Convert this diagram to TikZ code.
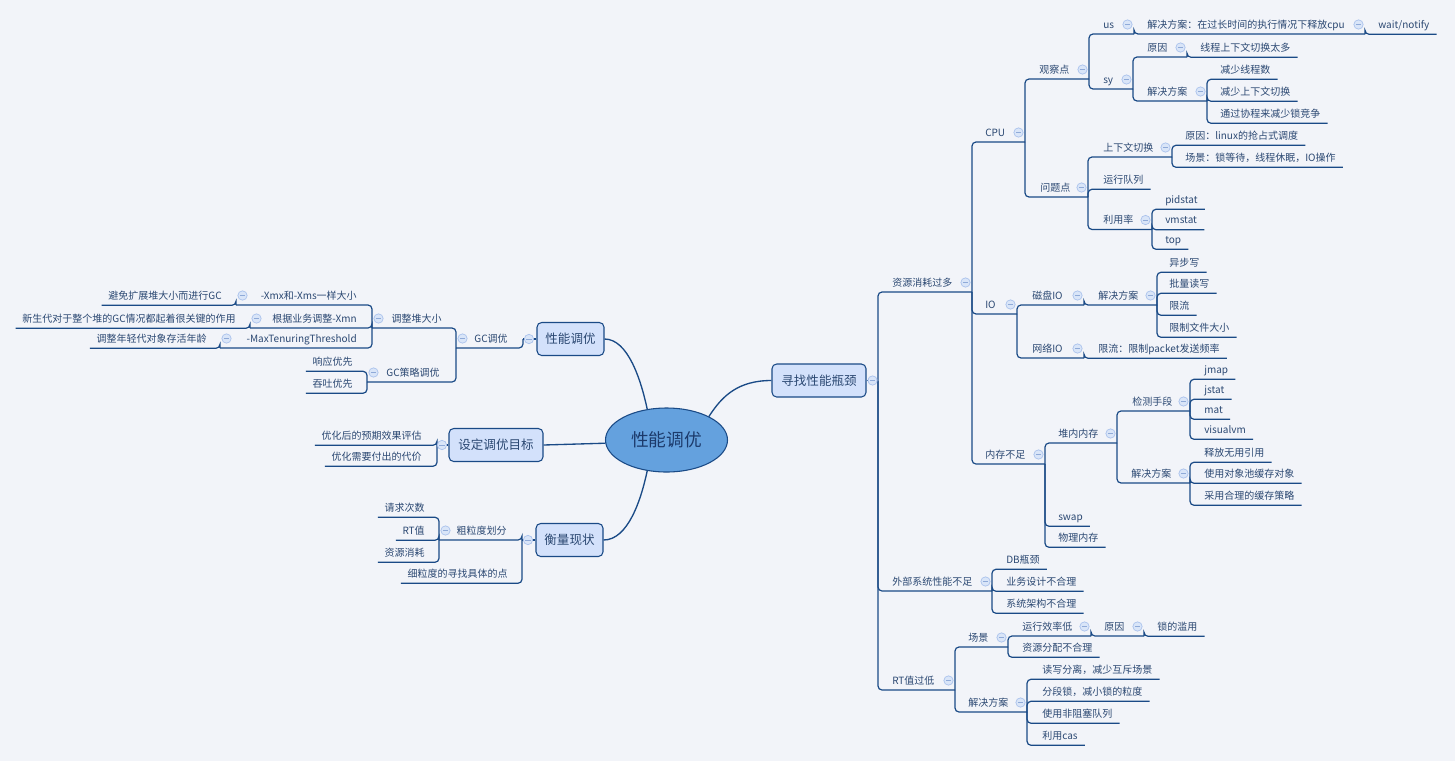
\documentclass[tikz,border=0pt]{standalone}
\usepackage{fontspec}
\setmainfont{Noto Sans CJK SC}
\usetikzlibrary{calc,shapes.geometric}
\definecolor{bgc}{HTML}{F2F4F9}
\definecolor{lnc}{HTML}{1A4A86}
\definecolor{txtc}{HTML}{2B4872}
\definecolor{boxfill}{HTML}{D3E1FB}
\definecolor{ellfill}{HTML}{64A1DE}
\definecolor{ctrtxt}{HTML}{1C3A6B}
\definecolor{colfill}{HTML}{D9E5F8}
\definecolor{coldraw}{HTML}{A9C1EC}
\definecolor{colminus}{HTML}{8FAAD8}
\tikzset{
 lbl/.style={inner sep=0pt, text height=6.6pt, text depth=0.9pt, text=txtc, font=\fontsize{7.5pt}{9pt}\selectfont},
 conn/.style={draw=lnc, line width=0.9pt, rounded corners=3pt},
 topic/.style={draw=lnc, fill=boxfill, rounded corners=3.5pt, line width=0.8pt, text=txtc, font=\fontsize{9.4pt}{11pt}\selectfont, minimum height=24.75pt, inner xsep=0pt},
 col/.style={circle, draw=coldraw, fill=colfill, line width=0.5pt, minimum size=7pt, inner sep=0pt,
   path picture={\draw[colminus, line width=0.6pt] ([xshift=-2pt]path picture bounding box.center) -- ([xshift=2pt]path picture bounding box.center);}},
 curve/.style={draw=lnc, line width=1pt},
}
\newcommand\rtxt[4]{\node[lbl,anchor=west] (#1) at (#2,#3-9.5) {#4};}
\newcommand\ltxt[4]{\node[lbl,anchor=east] (#1) at (#2,#3-9.5) {#4};}
\newcommand\rmid[2]{\draw[conn] (#1) |- (#2);}
\newcommand\rleaf[2]{\draw[conn] (#1) |- ($(#2.south east)+(7,4.5)$);}
\newcommand\lleaf[2]{\draw[conn] (#1) |- ($(#2.south west)+(-6.5,4.5)$);}
\newcommand\rcol[1]{\node[col] (#1c) at ($(#1s)+(-6.5,-9.5)$) {};}
\newcommand\lcol[1]{\node[col] (#1c) at ($(#1s)+(6.5,-9.5)$) {};}
\begin{document}
\begin{tikzpicture}[x=0.75pt,y=-0.75pt]
\fill[bgc] (0,0) rectangle (1455,761);
\useasboundingbox (0,0) rectangle (1455,761);

% central and main topics
\node[ellipse, draw=lnc, line width=0.8pt, fill=ellfill, minimum width=91.5pt, minimum height=48pt, inner sep=0pt, text=ctrtxt, font=\fontsize{13.3pt}{16pt}\selectfont] (ctr) at (666.5,440) {性能调优};
\node[topic, minimum width=70.5pt] (r) at (819,380.5) {寻找性能瓶颈};
\node[topic, minimum width=50.25pt] (l1) at (570.5,339) {性能调优};
\node[topic, minimum width=70.5pt] (s) at (496,445) {设定调优目标};
\node[topic, minimum width=50.25pt] (mm) at (569.5,540) {衡量现状};

\draw[curve] (ctr.29) .. controls (722,396) and (738,380.5) .. (r.west);
\draw[curve] (ctr.122) .. controls (641,380) and (628,339) .. (l1.east);
\draw[curve] (ctr.238) .. controls (641,500) and (628,540) .. (mm.east);
\draw[curve] (ctr.183) -- (s.east);

% ===== right branch =====
\coordinate (rs) at (878,380.5);
\draw[conn] (r.east) -- (rs);
\rtxt{a1}{892}{292}{资源消耗过多} \coordinate (a1s) at (972,292);
\rtxt{a2}{892}{591}{外部系统性能不足} \coordinate (a2s) at (992,591);
\rtxt{a3}{892}{690}{RT值过低} \coordinate (a3s) at (955,690);
\rmid{rs}{a1s} \rmid{rs}{a2s} \rmid{rs}{a3s}

\rtxt{b1}{985}{142}{CPU} \coordinate (b1s) at (1025,142);
\rtxt{b2}{985}{314}{IO} \coordinate (b2s) at (1017,314);
\rtxt{b3}{985}{464}{内存不足} \coordinate (b3s) at (1045,464);
\rmid{a1s}{b1s} \rmid{a1s}{b2s} \rmid{a1s}{b3s}

\rtxt{c1}{1039}{79}{观察点} \coordinate (c1s) at (1089,79);
\rtxt{c2}{1040}{197}{问题点} \coordinate (c2s) at (1088,197);
\rmid{b1s}{c1s} \rmid{b1s}{c2s}

\rtxt{d1}{1103}{34}{us} \coordinate (d1s) at (1134,34);
\rtxt{d2}{1103}{89}{sy} \coordinate (d2s) at (1133,89);
\rmid{c1s}{d1s} \rmid{c1s}{d2s}
\rtxt{e1}{1147}{34}{解决方案：在过长时间的执行情况下释放cpu} \coordinate (e1s) at (1365,34);
\rmid{d1s}{e1s}
\rtxt{f1}{1378}{34}{wait/notify} \rleaf{e1s}{f1}
\rtxt{e2}{1147}{57}{原因} \coordinate (e2s) at (1187,57);
\rtxt{e3}{1147}{101}{解决方案} \coordinate (e3s) at (1207,101);
\rmid{d2s}{e2s} \rmid{d2s}{e3s}
\rtxt{f2}{1200}{57}{线程上下文切换太多} \rleaf{e2s}{f2}
\rtxt{f3}{1220}{79}{减少线程数} \rleaf{e3s}{f3}
\rtxt{f4}{1220}{101}{减少上下文切换} \rleaf{e3s}{f4}
\rtxt{f5}{1220}{123}{通过协程来减少锁竞争} \rleaf{e3s}{f5}

\rtxt{d3}{1103}{157}{上下文切换} \coordinate (d3s) at (1172,157);
\rtxt{d4}{1103}{189}{运行队列}
\rtxt{d5}{1103}{229.5}{利用率} \coordinate (d5s) at (1152,229.5);
\rmid{c2s}{d3s} \rleaf{c2s}{d4} \rmid{c2s}{d5s}
\rtxt{e4}{1185}{145}{原因：linux的抢占式调度} \rleaf{d3s}{e4}
\rtxt{e5}{1185}{167}{场景：锁等待，线程休眠，IO操作} \rleaf{d3s}{e5}
\rtxt{e6}{1165}{209}{pidstat} \rleaf{d5s}{e6}
\rtxt{e7}{1165}{229.5}{vmstat} \rleaf{d5s}{e7}
\rtxt{e8}{1165}{249}{top} \rleaf{d5s}{e8}

\rtxt{c3}{1032}{305}{磁盘IO} \coordinate (c3s) at (1084,305);
\rtxt{c4}{1032}{358}{网络IO} \coordinate (c4s) at (1084,358);
\rmid{b2s}{c3s} \rmid{b2s}{c4s}
\rtxt{d6}{1098}{305}{解决方案} \coordinate (d6s) at (1157,305);
\rmid{c3s}{d6s}
\rtxt{e9}{1169}{272}{异步写} \rleaf{d6s}{e9}
\rtxt{e10}{1169}{293}{批量读写} \rleaf{d6s}{e10}
\rtxt{e11}{1169}{315}{限流} \rleaf{d6s}{e11}
\rtxt{e12}{1169}{337}{限制文件大小} \rleaf{d6s}{e12}
\rtxt{d7}{1098}{358}{限流：限制packet发送频率} \rleaf{c4s}{d7}

\rtxt{c5}{1058}{443}{堆内内存} \coordinate (c5s) at (1117,443);
\rtxt{c6}{1058}{526}{swap}
\rtxt{c7}{1058}{547}{物理内存}
\rmid{b3s}{c5s} \rleaf{b3s}{c6} \rleaf{b3s}{c7}
\rtxt{d8}{1132}{411}{检测手段} \coordinate (d8s) at (1190,411);
\rtxt{d9}{1131}{483}{解决方案} \coordinate (d9s) at (1190,483);
\rmid{c5s}{d8s} \rmid{c5s}{d9s}
\rtxt{g1}{1204}{379}{jmap} \rleaf{d8s}{g1}
\rtxt{g2}{1204}{399}{jstat} \rleaf{d8s}{g2}
\rtxt{g3}{1204}{419}{mat} \rleaf{d8s}{g3}
\rtxt{g4}{1204}{439}{visualvm} \rleaf{d8s}{g4}
\rtxt{g5}{1204}{462}{释放无用引用} \rleaf{d9s}{g5}
\rtxt{g6}{1204}{483}{使用对象池缓存对象} \rleaf{d9s}{g6}
\rtxt{g7}{1204}{505}{采用合理的缓存策略} \rleaf{d9s}{g7}

\rtxt{h1}{1006}{569}{DB瓶颈} \rleaf{a2s}{h1}
\rtxt{h2}{1006}{591}{业务设计不合理} \rleaf{a2s}{h2}
\rtxt{h3}{1006}{613}{系统架构不合理} \rleaf{a2s}{h3}

\rtxt{i1}{968}{647}{场景} \coordinate (i1s) at (1008,647);
\rtxt{i2}{968}{712}{解决方案} \coordinate (i2s) at (1027,712);
\rmid{a3s}{i1s} \rmid{a3s}{i2s}
\rtxt{j1}{1022}{636}{运行效率低} \coordinate (j1s) at (1091,636);
\rtxt{j2}{1022}{657}{资源分配不合理}
\rmid{i1s}{j1s} \rleaf{i1s}{j2}
\rtxt{k1}{1104}{636}{原因} \coordinate (k1s) at (1144,636);
\rmid{j1s}{k1s}
\rtxt{k2}{1157}{636}{锁的滥用} \rleaf{k1s}{k2}
\rtxt{j3}{1042}{679}{读写分离，减少互斥场景} \rleaf{i2s}{j3}
\rtxt{j4}{1042}{701}{分段锁，减小锁的粒度} \rleaf{i2s}{j4}
\rtxt{j5}{1042}{723}{使用非阻塞队列} \rleaf{i2s}{j5}
\rtxt{j6}{1042}{745}{利用cas} \rleaf{i2s}{j6}

% ===== left branches =====
\coordinate (l1s) at (523,339);
\draw[conn] (l1.west) -- (l1s);
\ltxt{m1}{508}{348}{GC调优} \coordinate (m1s) at (456,348);
\rmid{l1s}{m1s}
\ltxt{n1}{442}{328}{调整堆大小} \coordinate (n1s) at (372,328);
\ltxt{n2}{440}{382}{GC策略调优} \coordinate (n2s) at (367,382);
\rmid{m1s}{n1s} \rmid{m1s}{n2s}
\ltxt{o1}{357}{305}{-Xmx和-Xms一样大小} \coordinate (o1s) at (236,305);
\ltxt{o2}{357}{328}{根据业务调整-Xmn} \coordinate (o2s) at (250,328);
\ltxt{o3}{357}{348}{-MaxTenuringThreshold} \coordinate (o3s) at (220,348);
\rmid{n1s}{o1s} \rmid{n1s}{o2s} \rmid{n1s}{o3s}
\ltxt{p1}{222}{305}{避免扩展堆大小而进行GC} \lleaf{o1s}{p1}
\ltxt{p2}{236}{328}{新生代对于整个堆的GC情况都起着很关键的作用} \lleaf{o2s}{p2}
\ltxt{p3}{207}{348}{调整年轻代对象存活年龄} \lleaf{o3s}{p3}
\ltxt{o4}{353}{371}{响应优先} \lleaf{n2s}{o4}
\ltxt{o5}{353}{393}{吞吐优先} \lleaf{n2s}{o5}

\coordinate (ss) at (437,445);
\draw[conn] (s.west) -- (ss);
\ltxt{q1}{422}{445}{优化后的预期效果评估} \lleaf{ss}{q1}
\ltxt{q2}{422}{466}{优化需要付出的代价} \lleaf{ss}{q2}

\coordinate (mms) at (522,540);
\draw[conn] (mm.west) -- (mms);
\ltxt{t1}{507}{540}{粗粒度划分} \coordinate (t1s) at (439,540);
\ltxt{t2}{508}{583}{细粒度的寻找具体的点}
\rmid{mms}{t1s} \lleaf{mms}{t2}
\ltxt{u1}{425}{517}{请求次数} \lleaf{t1s}{u1}
\ltxt{u2}{425}{540}{RT值} \lleaf{t1s}{u2}
\ltxt{u3}{425}{562}{资源消耗} \lleaf{t1s}{u3}

% ===== collapse markers =====
\node[col] (rc) at ($(r.east)+(6,0)$) {};
\node[col] (l1c) at ($(l1.west)+(-7.5,0)$) {};
\node[col] (sc) at ($(s.west)+(-6.5,0)$) {};
\node[col] (mmc) at ($(mm.west)+(-7.5,0)$) {};
\rcol{a1} \rcol{a2} \rcol{a3}
\rcol{b1} \rcol{b2} \rcol{b3}
\rcol{c1} \rcol{c2} \rcol{c3} \rcol{c4} \rcol{c5}
\rcol{d1} \rcol{d2} \rcol{d3} \rcol{d5} \rcol{d6} \rcol{d8} \rcol{d9}
\rcol{e1} \rcol{e2} \rcol{e3}
\rcol{i1} \rcol{i2} \rcol{j1} \rcol{k1}
\lcol{m1} \lcol{n1} \lcol{n2} \lcol{o1} \lcol{o2} \lcol{o3} \lcol{t1}
\end{tikzpicture}
\end{document}
